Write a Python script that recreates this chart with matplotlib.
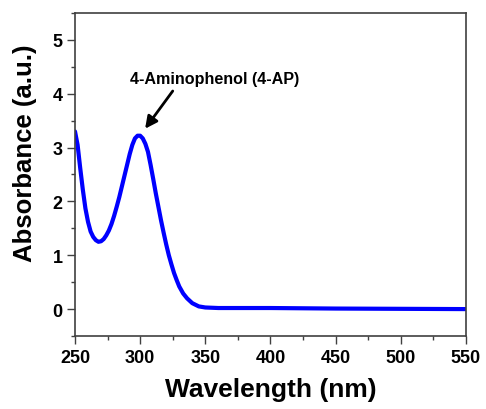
import numpy as np
import matplotlib
matplotlib.use("Agg")
import matplotlib.pyplot as plt
from matplotlib.ticker import MultipleLocator

# UV-vis spectrum of 4-aminophenol
wavelength = [250, 252, 254, 256, 258, 260, 262, 264, 266, 268, 270, 272, 274, 276, 278,
              280, 282, 284, 286, 288, 290, 292, 294, 296, 298, 300, 302, 304, 306, 308,
              310, 312, 314, 316, 318, 320, 322, 324, 326, 328, 330, 333, 336, 340, 345,
              350, 360, 380, 400, 450, 500, 550]
absorbance = [3.30, 3.05, 2.62, 2.22, 1.87, 1.62, 1.44, 1.34, 1.28, 1.25, 1.26, 1.30, 1.37, 1.46, 1.58,
              1.73, 1.90, 2.08, 2.28, 2.48, 2.68, 2.88, 3.05, 3.17, 3.22, 3.22, 3.17, 3.07, 2.92, 2.68,
              2.42, 2.15, 1.90, 1.65, 1.42, 1.20, 1.00, 0.83, 0.67, 0.54, 0.42, 0.29, 0.20, 0.11, 0.05,
              0.03, 0.02, 0.02, 0.02, 0.01, 0.005, 0.0]

plt.rcParams['font.family'] = ['Liberation Sans', 'DejaVu Sans']
plt.rcParams['font.weight'] = 'bold'

fig = plt.figure(figsize=(4.86, 4.10), dpi=100)
ax = fig.add_axes([0.1543, 0.178, 0.8045, 0.788])

ax.plot(wavelength, absorbance, color='#0000ff', lw=3, solid_capstyle='round')

ax.set_xlim(250, 550)
ax.set_ylim(-0.5, 5.5)
ax.xaxis.set_major_locator(MultipleLocator(50))
ax.xaxis.set_minor_locator(MultipleLocator(25))
ax.yaxis.set_major_locator(MultipleLocator(1))
ax.yaxis.set_minor_locator(MultipleLocator(0.5))

ax.tick_params(which='major', direction='out', length=6, width=1, color='#404040',
               labelsize=13, pad=3)
ax.tick_params(which='minor', direction='out', length=3, width=1, color='#404040')
for lab in ax.get_xticklabels() + ax.get_yticklabels():
    lab.set_fontweight('bold')
for s in ax.spines.values():
    s.set_color('#404040')
    s.set_linewidth(1.2)

ax.set_xlabel('Wavelength (nm)', fontsize=19, fontweight='bold', labelpad=8)
ax.set_ylabel('Absorbance (a.u.)', fontsize=18.5, fontweight='bold')
ax.yaxis.set_label_coords(-0.097, 0.57)

ax.text(357, 4.28, '4-Aminophenol (4-AP)', fontsize=11.6, fontweight='bold',
        ha='center', va='center')
ax.annotate('', xy=(303.8, 3.35), xytext=(325, 4.05),
            arrowprops=dict(arrowstyle='-|>', color='black', lw=2,
                            mutation_scale=18, shrinkA=0, shrinkB=0))

fig.savefig('out.png', dpi=100)
